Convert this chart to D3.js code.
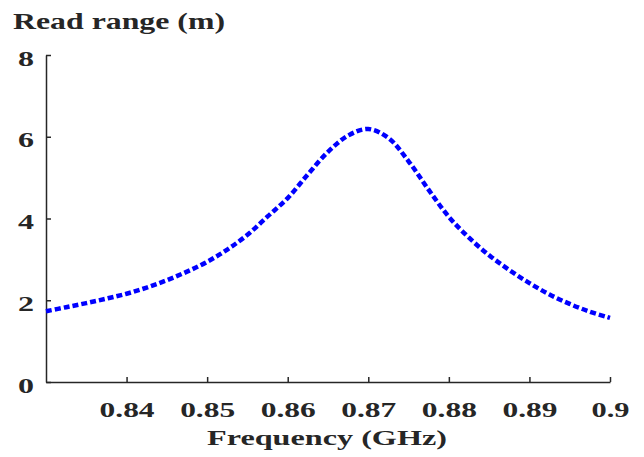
<!DOCTYPE html>
<html>
<head>
<meta charset="utf-8">
<script src="https://cdn.jsdelivr.net/npm/d3@7"></script>
<style>
  html, body { margin: 0; padding: 0; background: #fff; }
  svg { display: block; }
  text { font-family: "Liberation Serif", "DejaVu Serif", serif; font-weight: bold; fill: #262626; }
</style>
</head>
<body>
<svg id="chart" width="644" height="457"></svg>
<script>
const frequency = [0.83, 0.8325, 0.835, 0.8375, 0.84, 0.8425, 0.845, 0.8475, 0.85, 0.8525, 0.855, 0.8575,
  0.86, 0.8625, 0.865, 0.8675, 0.87, 0.8725, 0.875, 0.8775, 0.88, 0.8825, 0.885, 0.8875, 0.89, 0.8925, 0.895, 0.8975, 0.9];
const readRange = [1.73, 1.83, 1.93, 2.04, 2.16, 2.31, 2.49, 2.7, 2.94, 3.24, 3.6, 4.05,
  4.5, 5.08, 5.63, 6.03, 6.19, 5.97, 5.4, 4.7, 4.04, 3.53, 3.1, 2.74, 2.42, 2.14, 1.91, 1.72, 1.57];
const xTicks = [0.84, 0.85, 0.86, 0.87, 0.88, 0.89, 0.9];
const yTicks = [0, 2, 4, 6, 8];
const xTickLabels = ["0.84", "0.85", "0.86", "0.87", "0.88", "0.89", "0.9"];
const yTickLabels = ["0", "2", "4", "6", "8"];

const svg = d3.select("#chart");
const x = d3.scaleLinear().domain([0.83, 0.9]).range([46, 610]);
const y = d3.scaleLinear().domain([0, 8]).range([382, 55]);
const axisColor = "#262626";

// x axis
const xAxis = d3.axisBottom(x).tickValues(xTicks).tickFormat((d, i) => xTickLabels[i])
  .tickSizeInner(-5).tickSizeOuter(0).tickPadding(0);
const gx = svg.append("g").attr("transform", `translate(0,${y(0)})`).call(xAxis);
gx.select(".domain").attr("stroke", axisColor).attr("stroke-width", 1.5);
gx.selectAll(".tick line").attr("stroke", axisColor).attr("stroke-width", 1.5);
gx.selectAll(".tick text").attr("font-size", 22).attr("fill", axisColor)
  .attr("font-family", null).attr("y", 35).attr("dy", null)
  .attr("textLength", (d, i) => xTickLabels[i].length === 4 ? 55 : 38)
  .attr("lengthAdjust", "spacingAndGlyphs");

// y axis
const yAxis = d3.axisLeft(y).tickValues(yTicks).tickFormat((d, i) => yTickLabels[i])
  .tickSizeInner(-5).tickSizeOuter(0).tickPadding(12);
const gy = svg.append("g").attr("transform", `translate(${x(0.83)},0)`).call(yAxis);
gy.select(".domain").attr("stroke", axisColor).attr("stroke-width", 1.5);
gy.selectAll(".tick line").attr("stroke", axisColor).attr("stroke-width", 1.5);
gy.selectAll(".tick text").attr("font-size", 22).attr("fill", axisColor)
  .attr("font-family", null).attr("dy", null).attr("y", 10)
  .attr("textLength", 16).attr("lengthAdjust", "spacingAndGlyphs");

// curve
const line = d3.line().x((d, i) => x(frequency[i])).y(d => y(d)).curve(d3.curveCatmullRom.alpha(0.5));
svg.append("path").datum(readRange)
  .attr("d", line)
  .attr("fill", "none")
  .attr("stroke", "#0000ff")
  .attr("stroke-width", 4.5)
  .attr("stroke-dasharray", "6,3");

// title
svg.append("text").attr("x", 13).attr("y", 29).attr("font-size", 23)
  .attr("textLength", 212).attr("lengthAdjust", "spacingAndGlyphs").text("Read range (m)");
// x label
svg.append("text").attr("x", 207).attr("y", 445).attr("font-size", 22)
  .attr("textLength", 240).attr("lengthAdjust", "spacingAndGlyphs").text("Frequency (GHz)");
</script>
</body>
</html>
